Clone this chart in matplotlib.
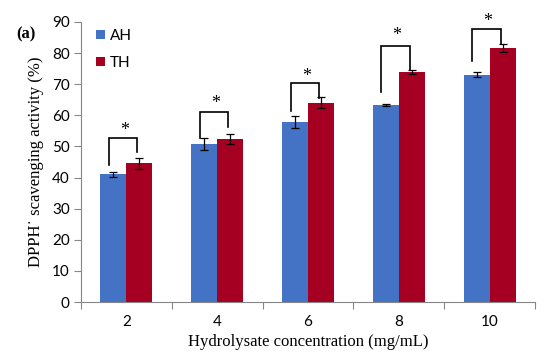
import matplotlib
matplotlib.use("Agg")
import matplotlib.pyplot as plt
import numpy as np

categories = ["2", "4", "6", "8", "10"]
ah = [41.0, 50.8, 57.8, 63.2, 73.0]
th = [44.6, 52.4, 64.1, 74.0, 81.6]
ah_err = [0.7, 2.0, 2.0, 0.3, 0.8]
th_err = [1.8, 1.5, 1.8, 0.6, 1.4]
# significance brackets: left start, top, right end, star height
br_left = [44.0, 52.8, 61.4, 67.5, 77.6]
br_top = [52.6, 61.1, 70.3, 82.4, 87.7]
br_right = [48.1, 56.4, 65.7, 74.6, 83.0]
star_y = [55.2, 63.8, 72.6, 85.6, 90.2]
yticks = [0, 10, 20, 30, 40, 50, 60, 70, 80, 90]

blue = "#4472C4"
red = "#A50021"
axis_gray = "#868686"

fig = plt.figure(figsize=(5.5, 3.6), dpi=100)
ax = fig.add_axes([0.147, 0.161, 0.826, 0.778])

x = np.arange(len(categories))
w = 0.285
ax.bar(x - w / 2, ah, w, color=blue, label="AH", zorder=2)
ax.bar(x + w / 2, th, w, color=red, label="TH", zorder=2)
ax.errorbar(x - w / 2, ah, yerr=ah_err, fmt="none", ecolor="black", elinewidth=0.9, capsize=3, capthick=0.9, zorder=3)
ax.errorbar(x + w / 2, th, yerr=th_err, fmt="none", ecolor="black", elinewidth=0.9, capsize=3, capthick=0.9, zorder=3)

for i in range(len(categories)):
    xl = x[i] - w / 2 - 0.05
    xr = x[i] + w / 2 - 0.02
    ax.plot([xl, xl, xr, xr], [br_left[i], br_top[i], br_top[i], br_right[i]],
            color="black", lw=1.2, zorder=4, solid_joinstyle="miter", clip_on=False)
    ax.text(x[i] - 0.02, star_y[i], "*", ha="center", va="center", fontsize=13,
            family="Liberation Serif", clip_on=False)

ax.set_xlim(-0.5, len(categories) - 0.5)
ax.set_ylim(0, 90)
ax.set_yticks(yticks)
ax.set_yticklabels([str(t) for t in yticks], family="Lato", fontsize=11)
ax.set_xticks(x)
ax.set_xticklabels(categories, family="Lato", fontsize=11)
ax.tick_params(axis="x", length=0, pad=9)
ax.set_xticks(np.arange(-0.5, len(categories)), minor=True)
ax.tick_params(axis="x", which="minor", length=5, color=axis_gray, width=0.8)
ax.tick_params(axis="y", length=5, color=axis_gray, width=0.8, pad=3)

for s in ["top", "right"]:
    ax.spines[s].set_visible(False)
for s in ["left", "bottom"]:
    ax.spines[s].set_color(axis_gray)
    ax.spines[s].set_linewidth(0.8)

ax.set_xlabel("Hydrolysate concentration (mg/mL)", family="Liberation Serif", fontsize=12, labelpad=4)
ax.set_ylabel("DPPH\u02D9 scavenging activity (%)", family="Liberation Serif", fontsize=12, labelpad=6)

leg = ax.legend(loc="upper left", bbox_to_anchor=(0.004, 1.025), frameon=False,
                prop={"family": "Lato", "size": 11}, handlelength=0.55, handleheight=0.55,
                handletextpad=0.35, labelspacing=0.85)

fig.text(0.03, 0.905, "(a)", family="Liberation Serif", fontweight="bold", fontsize=12, va="center")

fig.savefig("out.png", dpi=100)
